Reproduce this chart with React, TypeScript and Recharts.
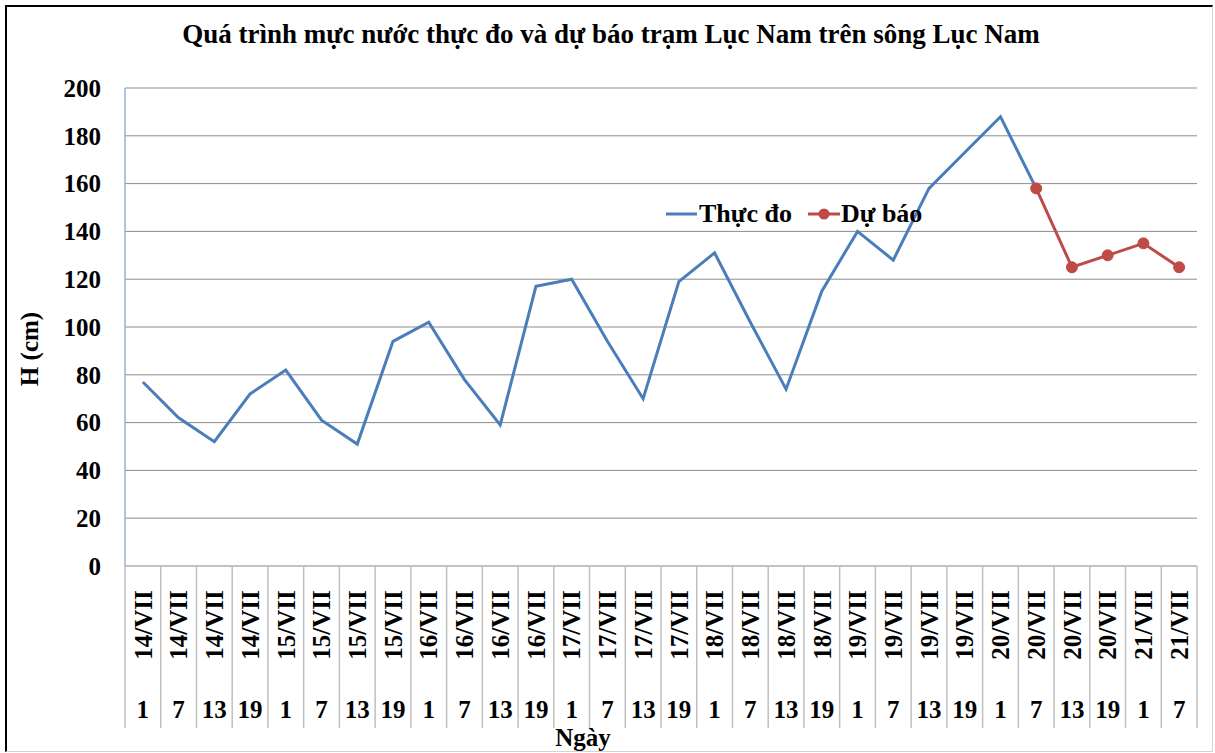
import React from "react";
import { LineChart, Line, XAxis, YAxis, CartesianGrid, Legend } from "recharts";

// category axis: two levels (day / hour)
const dayLabels = [
  "14/VII", "14/VII", "14/VII", "14/VII",
  "15/VII", "15/VII", "15/VII", "15/VII",
  "16/VII", "16/VII", "16/VII", "16/VII",
  "17/VII", "17/VII", "17/VII", "17/VII",
  "18/VII", "18/VII", "18/VII", "18/VII",
  "19/VII", "19/VII", "19/VII", "19/VII",
  "20/VII", "20/VII", "20/VII", "20/VII",
  "21/VII", "21/VII",
];
const hourLabels = [
  "1", "7", "13", "19", "1", "7", "13", "19", "1", "7", "13", "19",
  "1", "7", "13", "19", "1", "7", "13", "19", "1", "7", "13", "19",
  "1", "7", "13", "19", "1", "7",
];

// water level H (cm)
const thucDo = [
  77, 62, 52, 72, 82, 61, 51, 94, 102, 78, 59, 117, 120, 94, 70,
  119, 131, 102, 74, 115, 140, 128, 158, 173, 188, 158,
  null, null, null, null,
];
const duBao = [
  null, null, null, null, null, null, null, null, null, null,
  null, null, null, null, null, null, null, null, null, null,
  null, null, null, null, null, 158, 125, 130, 135, 125,
];

const yTicks = [0, 20, 40, 60, 80, 100, 120, 140, 160, 180, 200];

const data = dayLabels.map((d, i) => ({
  label: `${d} ${hourLabels[i]}`,
  thucDo: thucDo[i],
  duBao: duBao[i],
}));

const FONT = "'Liberation Serif', 'Times New Roman', serif";
const BLUE = "#4A7EBB";
const RED = "#BE4B48";
const PLOT_LEFT = 125;
const PLOT_RIGHT = 1197;
const PLOT_BOTTOM = 566;
const BAND = (PLOT_RIGHT - PLOT_LEFT) / dayLabels.length;

function CategoryTick(props: any) {
  const { x, index } = props;
  const y = PLOT_BOTTOM;
  const last = index === dayLabels.length - 1;
  return (
    <g>
      <line x1={x - BAND / 2} x2={x - BAND / 2} y1={y} y2={y + 162} stroke="#bfbfbf" strokeWidth={1.5} />
      {last && (
        <line x1={x + BAND / 2} x2={x + BAND / 2} y1={y} y2={y + 162} stroke="#bfbfbf" strokeWidth={1.5} />
      )}
      <text
        x={x}
        y={y + 59}
        dy="0.35em"
        textAnchor="middle"
        transform={`rotate(-90, ${x}, ${y + 59})`}
        fontFamily={FONT}
        fontWeight="bold"
        fontSize={25}
        fill="#000"
      >
        {dayLabels[index]}
      </text>
      <text x={x} y={y + 152} textAnchor="middle" fontFamily={FONT} fontWeight="bold" fontSize={25} fill="#000">
        {hourLabels[index]}
      </text>
    </g>
  );
}

function LegendContent() {
  return (
    <svg width={280} height={40}>
      <line x1={6} x2={37} y1={19} y2={19} stroke={BLUE} strokeWidth={3} />
      <text x={39} y={27} fontFamily={FONT} fontWeight="bold" fontSize={26} fill="#000">
        Thực đo
      </text>
      <line x1={148} x2={180} y1={19} y2={19} stroke={RED} strokeWidth={3} />
      <circle cx={164} cy={19} r={5.5} fill={RED} />
      <text x={181} y={27} fontFamily={FONT} fontWeight="bold" fontSize={26} fill="#000">
        Dự báo
      </text>
    </svg>
  );
}

export default function App() {
  return (
    <div style={{ position: "absolute", left: 0, top: 0, width: 1215, height: 753, background: "#fff" }}>
      <div
        style={{
          position: "absolute",
          left: 5,
          top: 5,
          width: 1208,
          height: 747,
          boxSizing: "border-box",
          borderTop: "2px solid #000",
          borderLeft: "2px solid #000",
          borderRight: "1px solid #d4d4d4",
          borderBottom: "1px solid #d4d4d4",
        }}
      />
      <LineChart
        width={1215}
        height={753}
        data={data}
        margin={{ top: 88, right: 1215 - PLOT_RIGHT, bottom: 0, left: 0 }}
      >
        <CartesianGrid vertical={false} stroke="#8c8c8c" />
        <XAxis
          dataKey="label"
          scale="band"
          interval={0}
          height={187}
          tickLine={false}
          axisLine={{ stroke: "#bfbfbf" }}
          tick={<CategoryTick />}
        />
        <YAxis
          width={PLOT_LEFT}
          domain={[0, 200]}
          ticks={yTicks}
          tickLine={false}
          tickMargin={18}
          axisLine={{ stroke: "#95B3D7", strokeWidth: 1.5 }}
          tick={{ fontFamily: FONT, fontWeight: "bold", fontSize: 25, fill: "#000" }}
        />
        <Legend
          layout="horizontal"
          verticalAlign="middle"
          align="center"
          wrapperStyle={{ left: 660, top: 195, width: 280, height: 40 }}
          content={<LegendContent />}
        />
        <Line
          type="linear"
          dataKey="thucDo"
          stroke={BLUE}
          strokeWidth={3}
          dot={false}
          activeDot={false}
          isAnimationActive={false}
        />
        <Line
          type="linear"
          dataKey="duBao"
          stroke={RED}
          strokeWidth={3}
          dot={{ r: 5.5, fill: RED, stroke: RED, strokeWidth: 1 }}
          activeDot={false}
          isAnimationActive={false}
        />
      </LineChart>
      <svg
        width={1215}
        height={753}
        style={{ position: "absolute", left: 0, top: 0, pointerEvents: "none" }}
      >
        <text x={611} y={43} textAnchor="middle" fontFamily={FONT} fontWeight="bold" fontSize={27} fill="#000">
          Quá trình mực nước thực đo và dự báo trạm Lục Nam trên sông Lục Nam
        </text>
        <text
          x={29}
          y={349}
          dy="0.35em"
          textAnchor="middle"
          transform="rotate(-90, 29, 349)"
          fontFamily={FONT}
          fontWeight="bold"
          fontSize={25}
          fill="#000"
        >
          H (cm)
        </text>
        <text x={583} y={746} textAnchor="middle" fontFamily={FONT} fontWeight="bold" fontSize={25} fill="#000">
          Ngày
        </text>
      </svg>
    </div>
  );
}
